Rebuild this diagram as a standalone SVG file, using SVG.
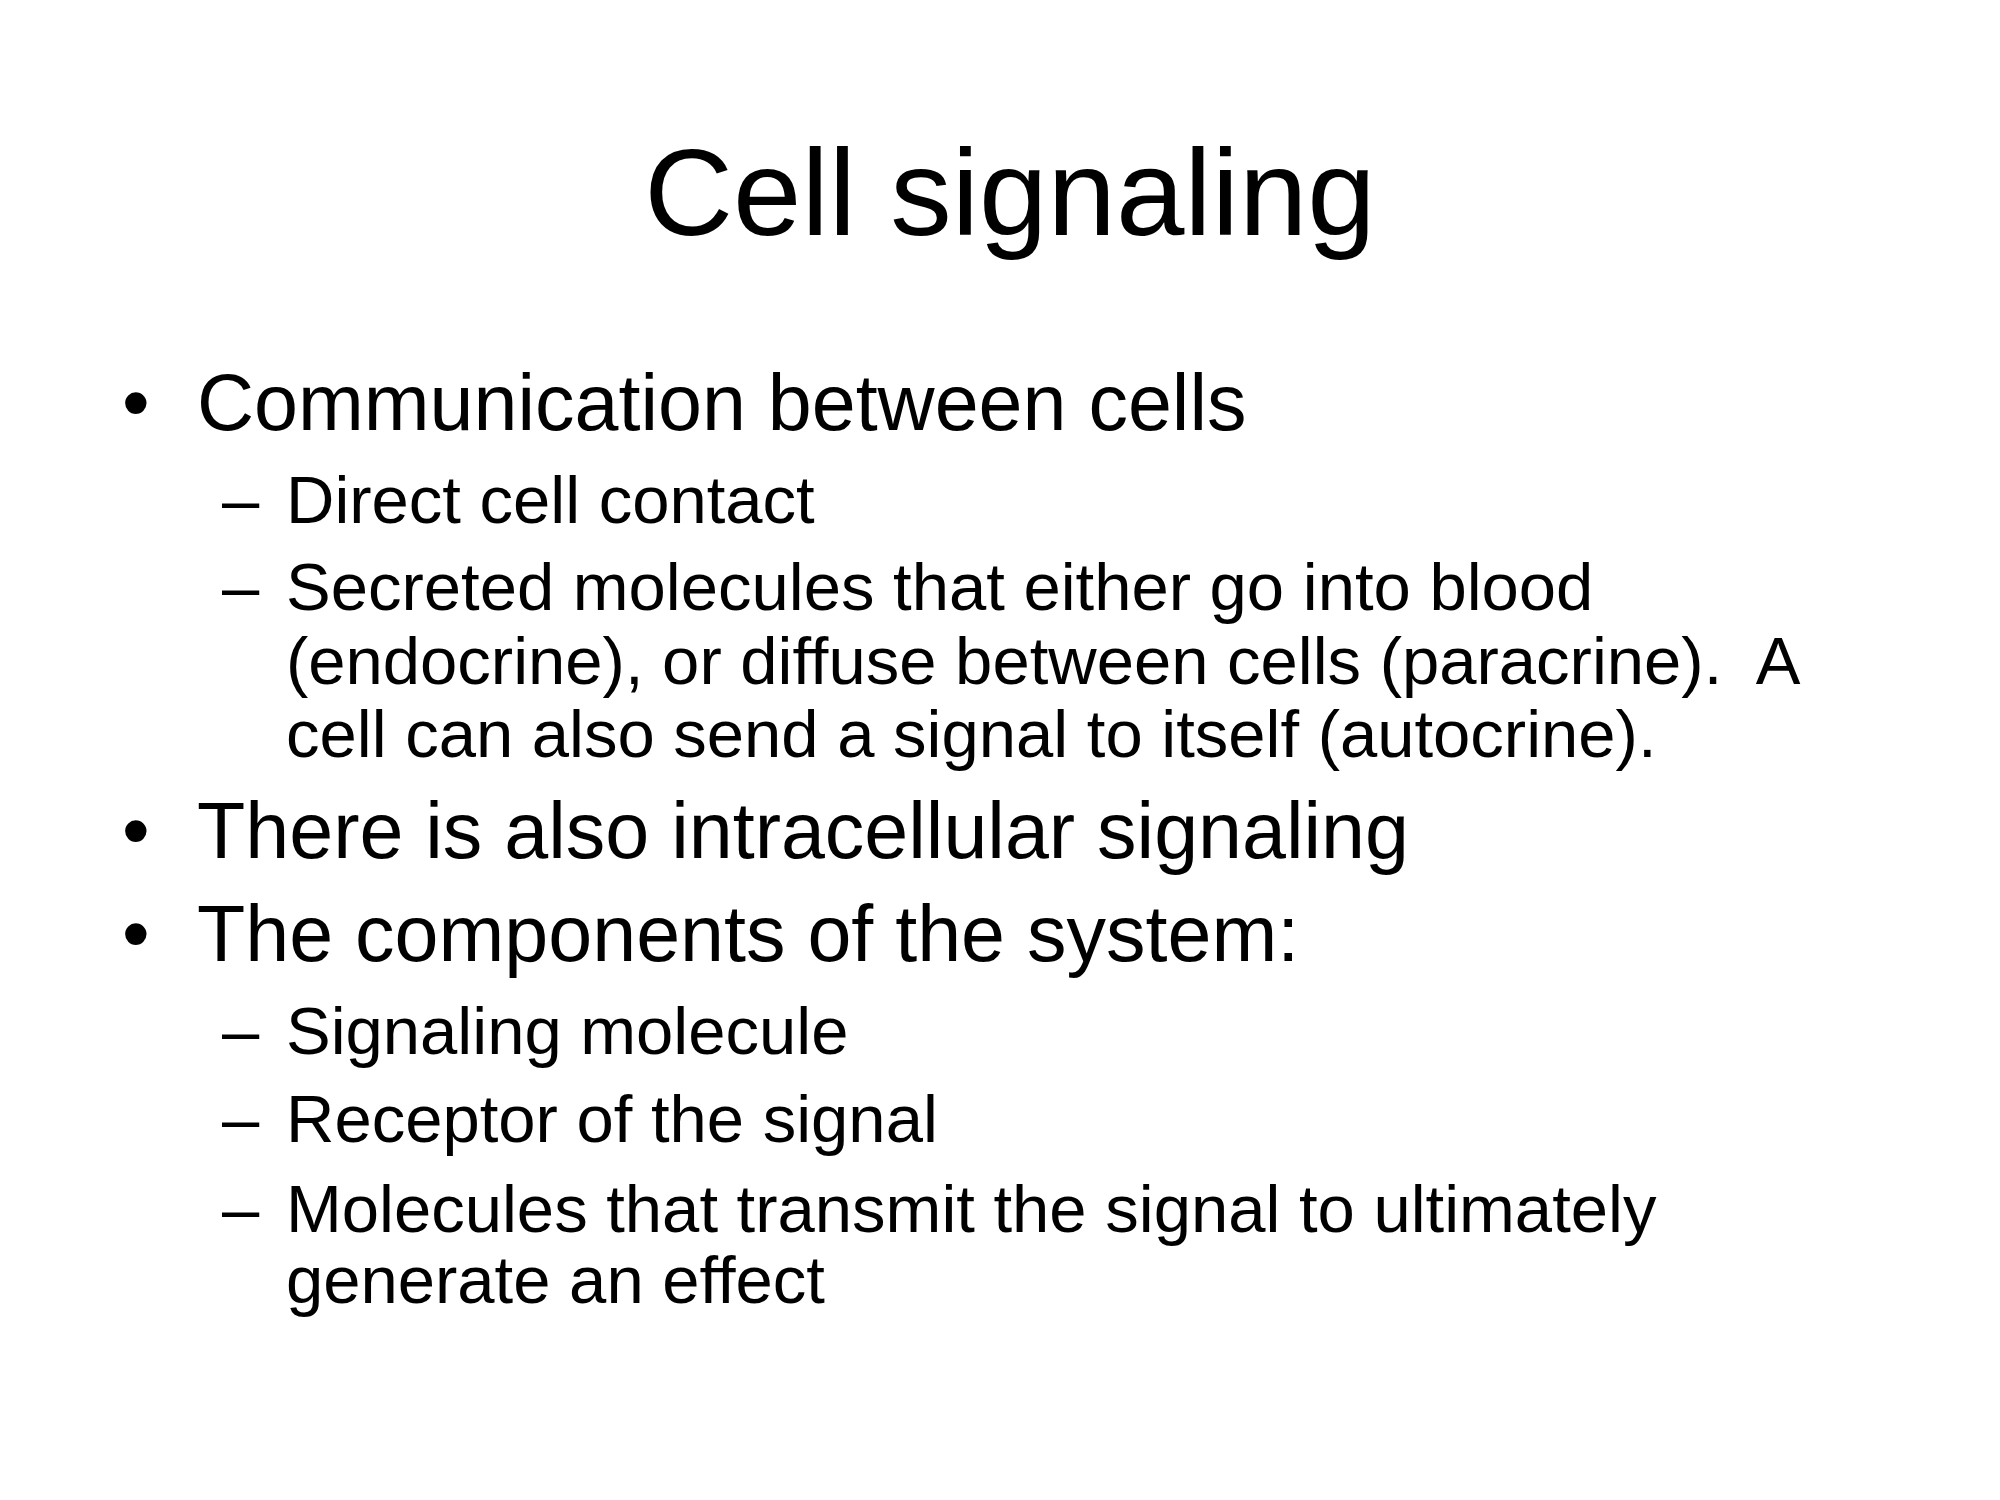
<svg xmlns="http://www.w3.org/2000/svg" width="2000" height="1500" viewBox="0 0 2000 1500">
<style>
text{font-family:"Liberation Sans",Arial,sans-serif;fill:#000}
.t{font-size:123px}
.b{font-size:79px}
.s{font-size:67px}
</style>
<rect width="2000" height="1500" fill="#fff"/>
<g id="title"><text class="t" x="1010" y="235" text-anchor="middle">Cell signaling</text></g>
<g id="body">
<text class="b" x="122" y="430">•</text><text class="b" x="197" y="430">Communication between cells</text>
<text class="s" x="222" y="523">–</text><text class="s" x="286" y="523">Direct cell contact</text>
<text class="s" x="222" y="610">–</text><text class="s" x="286" y="610">Secreted molecules that either go into blood</text>
<text class="s" x="286" y="684" xml:space="preserve">(endocrine), or diffuse between cells (paracrine).  A</text>
<text class="s" x="286" y="757">cell can also send a signal to itself (autocrine).</text>
<text class="b" x="122" y="858">•</text><text class="b" x="197" y="858">There is also intracellular signaling</text>
<text class="b" x="122" y="961">•</text><text class="b" x="197" y="961">The components of the system:</text>
<text class="s" x="222" y="1054">–</text><text class="s" x="286" y="1054">Signaling molecule</text>
<text class="s" x="222" y="1142">–</text><text class="s" x="286" y="1142">Receptor of the signal</text>
<text class="s" x="222" y="1232">–</text><text class="s" x="286" y="1232">Molecules that transmit the signal to ultimately</text>
<text class="s" x="286" y="1303">generate an effect</text>
</g>
</svg>
